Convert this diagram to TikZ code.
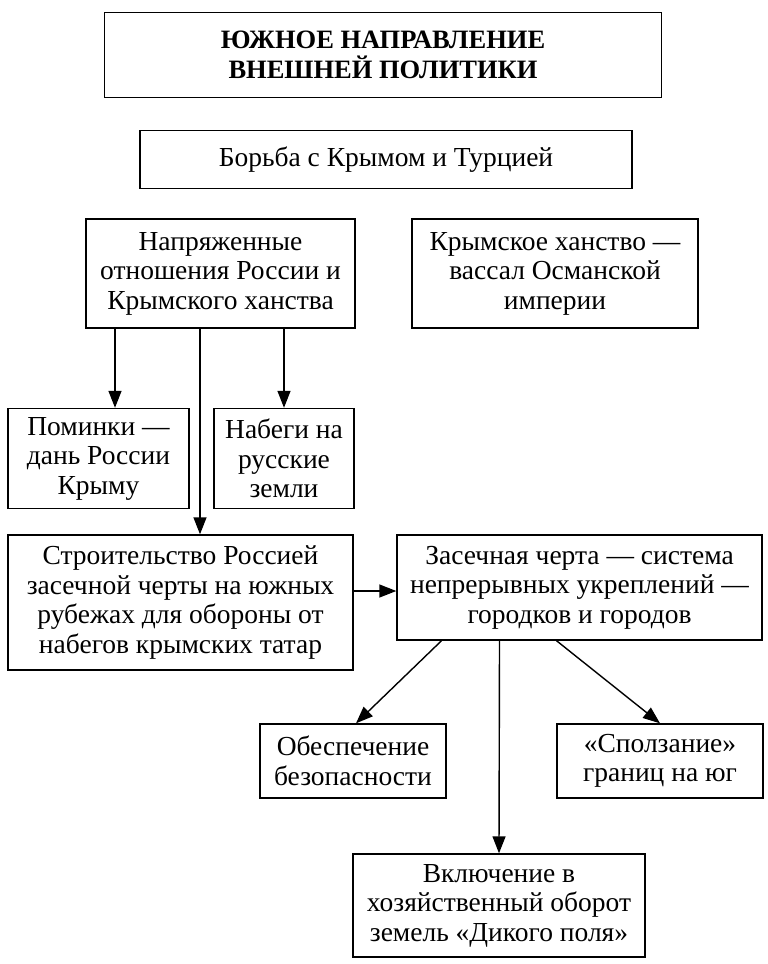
\documentclass[tikz,border=0pt]{standalone}
\usepackage{fontspec}
\setmainfont{Liberation Serif}
\usetikzlibrary{arrows.meta}

\begin{document}
\begin{tikzpicture}[x=1pt, y=-1pt]
	\tikzset{box/.style={draw, line width=1.4pt, align=center, inner sep=0pt, font=\fontsize{27.5}{29.5}\selectfont},
		arrow lines/.style={line width=1.4pt, -{Triangle[length=17pt, width=13pt]}}}
	\useasboundingbox (0, 0) rectangle (768, 964);
	% \draw (0, 0) grid [step=100] (768, 964);
	\node [box, minimum width=556.5, minimum height=85, font=\bfseries\fontsize{26.5}{29.5}\selectfont] (title) at (383, 54.75) {ЮЖНОЕ НАПРАВЛЕНИЕ\\ВНЕШНЕЙ ПОЛИТИКИ};
	\node [box, minimum width=492, minimum height=57.6] (borba) at (386, 159.5) {Борьба с Крымом и Турцией};
	\node [box, minimum width=269, minimum height=109] (napr) at (220.5, 273.5) {Напряженные\\отношения России и\\Крымского ханства};
	\node [box, minimum width=286, minimum height=109] (krym) at (555, 273.5) {Крымское ханство —\\вассал Османской\\империи};
	\node [box, minimum width=181, minimum height=100] (pomin) at (98.5, 458.5) {Поминки —\\дань России\\Крыму};
	\node [box, minimum width=140, minimum height=100] (nabeg) at (284, 458.5) {Набеги на\\русские\\земли};
	\node [box, minimum width=345, minimum height=135] (stroi) at (180.5, 602.5) {Строительство Россией\\засечной черты на южных\\рубежах для обороны от\\набегов крымских татар};
	\node [box, minimum width=365, minimum height=105] (zasek) at (579.5, 587.5) {Засечная черта — система\\непрерывных укреплений —\\городков и городов};
	\node [box, minimum width=186, minimum height=74] (bezop) at (353, 761) {Обеспечение\\безопасности};
	\node [box, minimum width=206, minimum height=74] (spolz) at (660, 761) {«Сползание»\\границ на юг};
	\node [box, minimum width=292, minimum height=103] (vkl) at (499, 905.5) {Включение в\\хозяйственный оборот\\земель «Дикого поля»};
	\coordinate (zasek in) at ([yshift=-3.5pt]zasek.west);
	\draw [arrow lines] ([xshift=-105.5pt]napr.south) -- ([xshift=-105.5pt]napr.south |- pomin.north);
	\draw [arrow lines] (napr.south -| nabeg.north) -- (nabeg.north);
	\draw [arrow lines] ([xshift=-20.5pt]napr.south) -- ([xshift=-20.5pt]napr.south |- stroi.north);
	\draw [arrow lines] (stroi.east |- zasek in) -- (zasek in);
	\draw [arrow lines] ([xshift=-138pt]zasek.south) -- ([xshift=3pt]bezop.north);
	\draw [arrow lines] ([xshift=-23pt]zasek.south) -- (spolz.north);
	\draw [arrow lines] ([xshift=-80pt]zasek.south) -- (vkl.north);
\end{tikzpicture}
\end{document}
